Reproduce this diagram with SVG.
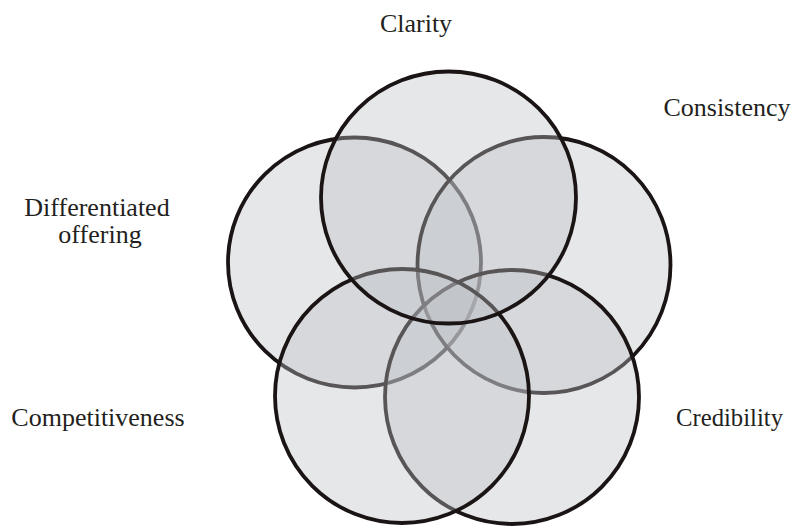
<svg xmlns="http://www.w3.org/2000/svg" width="796" height="527" viewBox="0 0 796 527">
<style>
.c{fill:#bebfc4;fill-opacity:0.38;stroke:#1a1414;stroke-width:3.8}
.t{font-family:"Liberation Serif","Times New Roman",serif;font-size:26px;fill:#231f20}
</style>
<rect width="796" height="527" fill="#fff"/>
<g id="differentiated"><ellipse class="c" cx="354.5" cy="262.5" rx="126.5" ry="125"/></g>
<g id="consistency"><ellipse class="c" cx="544" cy="265" rx="126.5" ry="128"/></g>
<g id="credibility"><ellipse class="c" cx="512" cy="397" rx="127" ry="127"/></g>
<g id="competitiveness"><ellipse class="c" cx="402" cy="396" rx="127" ry="127"/></g>
<g id="clarity"><ellipse class="c" cx="448.5" cy="197.5" rx="127.5" ry="126"/></g>
<g id="labels">
<text class="t" x="416" y="32" text-anchor="middle">Clarity</text>
<text class="t" x="727" y="116" text-anchor="middle">Consistency</text>
<text class="t" x="97" y="216" text-anchor="middle">Differentiated</text>
<text class="t" x="100" y="243" text-anchor="middle">offering</text>
<text class="t" x="98" y="425.5" text-anchor="middle">Competitiveness</text>
<text class="t" x="729.5" y="425.5" text-anchor="middle" textLength="107" lengthAdjust="spacingAndGlyphs">Credibility</text>
</g>
</svg>
